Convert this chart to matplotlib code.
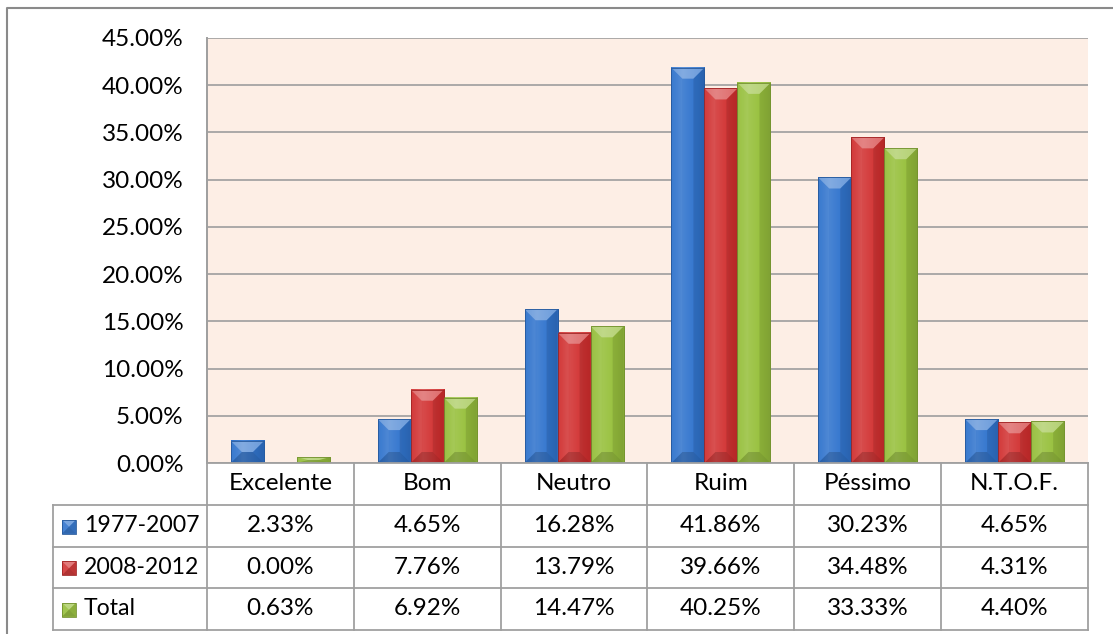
import matplotlib
matplotlib.use("Agg")
import matplotlib.pyplot as plt
from matplotlib.patches import Polygon
from matplotlib.lines import Line2D
import numpy as np
import colorsys

plt.rcParams['font.family'] = ['Lato', 'DejaVu Sans']

# ---- data ----
categories = ["Excelente", "Bom", "Neutro", "Ruim", "Péssimo", "N.T.O.F."]
series_names = ["1977-2007", "2008-2012", "Total"]
vals_1977_2007 = [2.33, 4.65, 16.28, 41.86, 30.23, 4.65]
vals_2008_2012 = [0.00, 7.76, 13.79, 39.66, 34.48, 4.31]
vals_total = [0.63, 6.92, 14.47, 40.25, 33.33, 4.40]
y_ticks = [0, 5, 10, 15, 20, 25, 30, 35, 40, 45]

series_values = [vals_1977_2007, vals_2008_2012, vals_total]
series_colors = ["#3b7bd0", "#d43d3d", "#9cc345"]

W, H = 1113, 634
DPI = 100
FS = 17.5
fig = plt.figure(figsize=(W / DPI, H / DPI), dpi=DPI)
fig.patch.set_facecolor("white")


def fx(px):
    return px / W


def fy(py):
    return 1 - py / H


def shade(color, factor):
    r, g, b = matplotlib.colors.to_rgb(color)
    h, l, s = colorsys.rgb_to_hls(r, g, b)
    l = max(0, min(1, l * factor))
    return colorsys.hls_to_rgb(h, l, s)


def bevel_polys(x0, x1, y0, y1, b):
    """Facets of a bevelled box in display pixels (y up)."""
    bx = min(b, (x1 - x0) / 2)
    by = min(b, (y1 - y0) / 2)
    top = [(x0, y1), (x1, y1), (x1 - bx, y1 - by), (x0 + bx, y1 - by)]
    bottom = [(x0, y0), (x1, y0), (x1 - bx, y0 + by), (x0 + bx, y0 + by)]
    left = [(x0, y0), (x0, y1), (x0 + bx, y1 - by), (x0 + bx, y0 + by)]
    right = [(x1, y0), (x1, y1), (x1 - bx, y1 - by), (x1 - bx, y0 + by)]
    return top, bottom, left, right


def draw_bevel(add, to_coords, x0, x1, y0, y1, color, b, transform, z):
    top, bottom, left, right = bevel_polys(x0, x1, y0, y1, b)
    facets = [(left, "white", 0.06), (right, "black", 0.10),
              (bottom, "black", 0.16), (top, "white", 0.32)]
    for pts, c, a in facets:
        add(Polygon(to_coords(pts), closed=True, facecolor=c, alpha=a,
                    edgecolor="none", transform=transform, zorder=z))
    add(Polygon(to_coords([(x0, y0), (x1, y0), (x1, y1), (x0, y1)]),
                closed=True, facecolor="none", edgecolor=shade(color, 0.72),
                linewidth=0.6, transform=transform, zorder=z + 0.1))


def gradient_image(color, n=32):
    # horizontal shading: brighter toward the left third, darker at the right edge
    t = np.linspace(0, 1, n)
    f = 1.06 - 0.16 * np.abs(t - 0.35) / 0.65 - 0.04 * (t < 0.35) * (0.35 - t) / 0.35
    row = np.array([shade(color, k) for k in f])
    return row[np.newaxis, :, :]


# ---- plot area ----
left_px, right_px, top_px, bottom_px = 207, 1088, 38, 463
ax = fig.add_axes([fx(left_px), fy(bottom_px), fx(right_px - left_px),
                   (bottom_px - top_px) / H])
ax.set_facecolor("#fdeee5")
ax.set_xlim(-0.5, len(categories) - 0.5)
ax.set_ylim(0, 45)
ax.set_yticks(y_ticks)
ax.set_yticklabels([f"{t:.2f}%" for t in y_ticks], fontsize=FS)
ax.tick_params(axis="y", length=0, pad=17)
ax.set_xticks([])
for s in ["top", "right", "bottom"]:
    ax.spines[s].set_visible(False)
ax.spines["left"].set_color("#9a9a9a")
ax.spines["left"].set_linewidth(1.3)
ax.yaxis.grid(True, color="#9d9d9d", linewidth=1.2)
ax.set_axisbelow(True)

bar_w = 0.225
x = np.arange(len(categories))
bar_sets = []
for i, (vals, col) in enumerate(zip(series_values, series_colors)):
    bars = ax.bar(x + (i - 1) * bar_w, vals, width=bar_w, color=col,
                  edgecolor="none", zorder=3)
    bar_sets.append((bars, col))

# shaded faces and bevel facets on each bar, computed in display pixels
inv = ax.transData.inverted()
for bars, col in bar_sets:
    img = gradient_image(col)
    for p in bars.patches:
        if p.get_height() <= 0:
            continue
        bx0, bx1 = p.get_x(), p.get_x() + p.get_width()
        ax.imshow(img, extent=(bx0, bx1, 0, p.get_height()), aspect="auto",
                  zorder=3.5, interpolation="bilinear")
        (dx0, dy0) = ax.transData.transform((bx0, 0))
        (dx1, dy1) = ax.transData.transform((bx1, p.get_height()))
        draw_bevel(ax.add_patch, lambda pts: inv.transform(np.array(pts)),
                   dx0, dx1, dy0, dy1, col, 11, ax.transData, 4)
ax.set_xlim(-0.5, len(categories) - 0.5)
ax.set_ylim(0, 45)

# ---- data table ----
line_c = "#a0a0a0"
line_w = 1.3
row_h = 41.5
header_bottom = bottom_px + 42
row_tops = [header_bottom + k * row_h for k in range(len(series_names) + 1)]
legend_left = 53

# column boundaries follow the axis categories
col_edges_px = [ax.transData.transform((k - 0.5, 0))[0] for k in range(len(categories) + 1)]


def hline(y, xa, xb):
    fig.add_artist(Line2D([fx(xa), fx(xb)], [fy(y), fy(y)], color=line_c, lw=line_w))


def vline(xv, ya, yb):
    fig.add_artist(Line2D([fx(xv), fx(xv)], [fy(ya), fy(yb)], color=line_c, lw=line_w))


# axis line continues through the table
vline(col_edges_px[0], top_px, row_tops[-1])
for c in col_edges_px[1:]:
    vline(c, bottom_px, row_tops[-1])
vline(legend_left, row_tops[0], row_tops[-1])
hline(bottom_px, col_edges_px[0], col_edges_px[-1])
for yv in row_tops:
    hline(yv, legend_left, col_edges_px[-1])

# header row
for k, cat in enumerate(categories):
    cx = (col_edges_px[k] + col_edges_px[k + 1]) / 2
    fig.text(fx(cx), fy((bottom_px + header_bottom) / 2), cat, ha="center",
             va="center", fontsize=FS, color="black")

# value rows with legend keys
for r, (name, vals, col) in enumerate(zip(series_names, series_values, series_colors)):
    yc = (row_tops[r] + row_tops[r + 1]) / 2
    key = 14
    kx0, ky_top = 62, yc - key / 2 + 1
    ky0, ky1 = H - (ky_top + key), H - ky_top
    fig.add_artist(Polygon([(kx0, ky0), (kx0 + key, ky0), (kx0 + key, ky1), (kx0, ky1)],
                           closed=True, facecolor=col, edgecolor="none",
                           transform=None, zorder=4.5))
    draw_bevel(fig.add_artist, lambda pts: np.array(pts), kx0, kx0 + key,
               ky0, ky1, col, 7, None, 5)
    fig.text(fx(84), fy(yc), name, ha="left", va="center", fontsize=16.6,
             color="black")
    for k, v in enumerate(vals):
        cx = (col_edges_px[k] + col_edges_px[k + 1]) / 2
        fig.text(fx(cx), fy(yc), f"{v:.2f}%", ha="center", va="center",
                 fontsize=FS, color="black")

# outer chart frame
fig.add_artist(Line2D([fx(7), fx(7), fx(W + 5)], [fy(H + 5), fy(8), fy(8)],
                      color="#8a8a8a", lw=1.5))

fig.savefig("out.png", dpi=DPI, facecolor="white")
